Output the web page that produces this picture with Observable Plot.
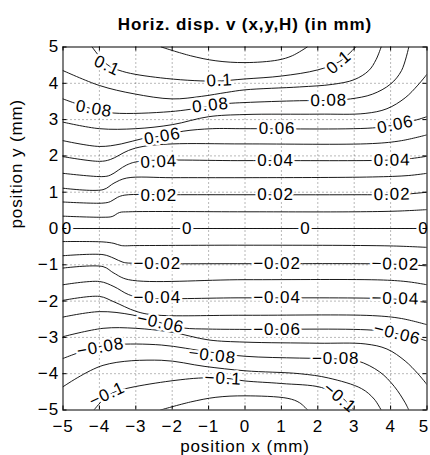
<!DOCTYPE html>
<html><head><meta charset="utf-8">
<script src="https://cdn.jsdelivr.net/npm/d3@7"></script>
<script src="https://cdn.jsdelivr.net/npm/@observablehq/plot@0.6"></script>
<style>body{margin:0;background:#fff}</style>
</head><body><div id="chart"></div>
<script>
// Tick values
const xTicks = [-5,-4,-3,-2,-1,0,1,2,3,4,5];
const yTicks = [-5,-4,-3,-2,-1,0,1,2,3,4,5];

// Contour polylines, one array per level: [x, y]
const c_000 = [[-5,0],[5,0]];
const c_p01 = [[-5,0.34],[-3.9,0.31],[-3.65,0.33],[-3.45,0.44],[-3.2,0.46],[0,0.46],[3,0.46],[4.2,0.48],[5,0.52]];
const c_n01 = [[-5,-0.36],[-3.9,-0.37],[-3.6,-0.41],[-3.4,-0.47],[-3,-0.47],[0,-0.46],[4,-0.48],[5,-0.52]];
const c_p02 = [[-5,0.73],[-3.9,0.70],[-3.7,0.74],[-3.5,0.86],[-3.3,0.92],[-2,0.93],[0,0.93],[3,0.93],[4.3,0.94],[5,1.0]];
const c_n02 = [[-5,-0.75],[-3.9,-0.72],[-3.6,-0.82],[-3.35,-0.93],[-3,-0.96],[0,-0.97],[4,-0.98],[5,-1.03]];
const c_p03 = [[-5,1.11],[-3.9,1.07],[-3.6,1.25],[-3.25,1.39],[-2,1.40],[0,1.40],[3.5,1.42],[4.5,1.46],[5,1.52]];
const c_n03 = [[-5,-1.09],[-3.9,-1.05],[-3.6,-1.23],[-3.2,-1.41],[0,-1.41],[3.8,-1.42],[4.5,-1.47],[5,-1.55]];
const c_p04 = [[-5,1.52],[-3.9,1.43],[-3.7,1.47],[-3.25,1.75],[-2.9,1.85],[0,1.87],[3.8,1.88],[4.5,1.92],[5,1.99]];
const c_n04 = [[-5,-1.55],[-4,-1.46],[-3.6,-1.6],[-3.2,-1.82],[-2.8,-1.91],[0,-1.91],[3.8,-1.93],[4.5,-1.98],[5,-2.04]];
const c_p05 = [[-5,1.98],[-4,1.85],[-3.7,1.9],[-3.2,2.15],[-2.8,2.26],[-2,2.33],[0,2.33],[3.5,2.34],[4.3,2.42],[5,2.58]];
const c_n05 = [[-5,-1.98],[-4,-1.87],[-3.6,-2.02],[-3,-2.28],[-2.5,-2.38],[0,-2.39],[3.5,-2.4],[4.3,-2.48],[5,-2.65]];
const c_p06 = [[-5,2.42],[-4,2.26],[-3.4,2.33],[-2.8,2.48],[-2.27,2.55],[-1.7,2.68],[-0.9,2.75],[0,2.75],[3.5,2.77],[4.13,2.86],[4.6,2.96],[5,3.08]];
const c_n06 = [[-5,-2.44],[-4,-2.29],[-3.1,-2.38],[-2.3,-2.6],[-1.7,-2.74],[-1,-2.77],[0,-2.78],[3.5,-2.8],[4.2,-2.9],[4.6,-2.98],[5,-3.1]];
const c_p07 = [[-5,2.93],[-4,2.75],[-3,2.75],[-2,2.86],[-1,3.08],[0,3.14],[2,3.15],[3.3,3.17],[3.9,3.3],[4.4,3.6],[4.75,3.95],[5,4.25]];
const c_n07 = [[-5,-2.98],[-3.9,-2.75],[-3,-2.75],[-2,-2.86],[-1,-3.07],[0,-3.13],[2,-3.16],[3.3,-3.18],[3.9,-3.32],[4.4,-3.65],[4.75,-4.0],[5,-4.3]];
const c_p08 = [[-5,3.57],[-4.15,3.28],[-3.6,3.18],[-2.05,3.22],[-1,3.36],[-0.5,3.44],[0,3.47],[1.5,3.52],[2.3,3.53],[2.9,3.57],[3.5,3.7],[4,3.98],[4.3,4.35],[4.5,5]];
const c_n08 = [[-5,-3.58],[-4.2,-3.3],[-3.6,-3.2],[-2.3,-3.21],[-1,-3.4],[0,-3.52],[1.5,-3.57],[2.5,-3.59],[3.1,-3.65],[3.7,-3.95],[4.1,-4.35],[4.4,-4.8],[4.5,-5]];
const c_p09 = [[-5,4.35],[-4,3.94],[-3.05,3.71],[-2,3.57],[-1.2,3.64],[-0.5,3.75],[0,3.82],[1.5,3.9],[2.4,3.97],[3,4.1],[3.4,4.35],[3.6,4.65],[3.74,5]];
const c_n09 = [[-5,-4.36],[-3.9,-3.77],[-2.3,-3.63],[-1.1,-3.8],[0,-3.92],[1.5,-4.0],[2.3,-4.12],[3.2,-4.41],[3.55,-4.7],[3.74,-5]];
const c_p10 = [[-4.2,5],[-3.79,4.52],[-3.37,4.33],[-2.32,4.15],[-0.87,4.06],[0,4.12],[1,4.2],[2,4.37],[2.6,4.6],[3.04,5]];
const c_n10 = [[-4.15,-5],[-3.79,-4.62],[-3.42,-4.45],[-1.41,-4.13],[-0.5,-4.13],[0,-4.2],[1,-4.27],[2.1,-4.38],[2.64,-4.64],[3.0,-5]];
const c_p11 = [[-2.3,5],[-1.5,4.76],[-0.8,4.62],[0,4.57],[0.9,4.64],[1.3,4.76],[1.71,5]];
const c_n11 = [[-2.32,-5],[-1.5,-4.78],[-0.8,-4.65],[0,-4.61],[1.18,-4.68],[1.5,-4.8],[1.72,-5]];

// Contour labels
const labelText = ["0.1","0.1","0.1","0.08","0.08","0.08","0.06","0.06","0.06","0.04","0.04","0.04","0.02","0.02","0.02",
  "0","0","0","0",
  "\u22120.02","\u22120.02","\u22120.02","\u22120.04","\u22120.04","\u22120.04","\u22120.06","\u22120.06","\u22120.06",
  "\u22120.08","\u22120.08","\u22120.08","\u22120.1","\u22120.1","\u22120.1"];
const labelX = [-3.79,-0.7,2.58,-4.15,-0.95,2.3,-2.27,0.88,4.13,-2.37,0.84,4.04,-2.37,0.84,4.04,
  -4.89,-1.59,1.66,4.9,
  -2.41,0.88,4.13,-2.41,0.88,4.13,-2.32,0.88,4.18,
  -3.97,-0.9,2.49,-3.79,-0.6,2.6];
const labelY = [4.49,4.08,4.58,3.30,3.40,3.53,2.54,2.75,2.86,1.84,1.87,1.88,0.92,0.93,0.94,
  0,0,0,0,
  -0.97,-0.97,-0.98,-1.91,-1.91,-1.93,-2.6,-2.79,-2.9,
  -3.27,-3.5,-3.59,-4.57,-4.13,-4.66];
const labelRot = [25,-3,-40,10,-6,-1,-10,0,-12,-3,0,-1,0,0,-1,
  0,0,0,0,
  0,0,1,0,0,1,12,0,14,
  -10,7,0,-25,3,40];

const contours = [
  [0,c_000],[0.01,c_p01],[-0.01,c_n01],[0.02,c_p02],[-0.02,c_n02],[0.03,c_p03],[-0.03,c_n03],
  [0.04,c_p04],[-0.04,c_n04],[0.05,c_p05],[-0.05,c_n05],[0.06,c_p06],[-0.06,c_n06],
  [0.07,c_p07],[-0.07,c_n07],[0.08,c_p08],[-0.08,c_n08],[0.09,c_p09],[-0.09,c_n09],
  [0.1,c_p10],[-0.1,c_n10],[0.11,c_p11],[-0.11,c_n11]
];
const lineRows = [];
contours.forEach(([lv, pts]) => pts.forEach(([x, y]) => lineRows.push({level: lv, x, y})));
const labels = labelText.map((t, i) => ({text: t, x: labelX[i], y: labelY[i], rotate: labelRot[i]}));

const W = 430, H = 455, mL = 62.5, mR = 3.5, mT = 46.5, mB = 45.5;
const plotW = W - mL - mR, plotH = H - mT - mB;
const FONT = "'Liberation Sans', Arial, Helvetica, sans-serif";
const FS = 17;
const fmt = d => d < 0 ? "\u2212" + Math.abs(d) : String(d);

const chart = Plot.plot({
  width: W, height: H,
  marginLeft: mL, marginRight: mR, marginTop: mT, marginBottom: mB,
  style: {fontFamily: FONT, fontSize: FS + "px", letterSpacing: "0.9px", color: "black", background: "white", overflow: "visible"},
  x: {domain: [-5, 5]},
  y: {domain: [-5, 5]},
  marks: [
    Plot.gridX(xTicks.slice(1, -1), {stroke: "black", strokeOpacity: 0.7, strokeWidth: 0.8, strokeDasharray: "1,3"}),
    Plot.gridY(yTicks.slice(1, -1), {stroke: "black", strokeOpacity: 0.7, strokeWidth: 0.8, strokeDasharray: "1,3"}),
    Plot.line(lineRows, {x: "x", y: "y", z: "level", curve: "catmull-rom", stroke: "black", strokeWidth: 0.9, clip: true}),
    Plot.text(labels, {x: "x", y: "y", text: "text", rotate: "rotate", fill: "black", stroke: "white", strokeWidth: 5, paintOrder: "stroke", fontSize: FS}),
    Plot.frame({stroke: "black", strokeWidth: 1}),
    Plot.tickX(xTicks, {x: d => d, insetTop: plotH - 4, stroke: "black"}),
    Plot.tickX(xTicks, {x: d => d, insetBottom: plotH - 4, stroke: "black"}),
    Plot.tickY(yTicks, {y: d => d, insetRight: plotW - 4, stroke: "black"}),
    Plot.tickY(yTicks, {y: d => d, insetLeft: plotW - 4, stroke: "black"}),
    Plot.axisX(xTicks.slice(0, -1), {tickSize: 0, tickPadding: 10, tickFormat: fmt, label: null, fontSize: FS}),
    Plot.axisX(xTicks.slice(-1), {tickSize: 0, tickPadding: 10, tickFormat: fmt, label: null, fontSize: FS, dx: -3}),
    Plot.axisY(yTicks, {tickSize: 0, tickPadding: 4, tickFormat: fmt, label: null, fontSize: FS}),
    Plot.text(["Horiz. disp. v (x,y,H) (in mm)"], {frameAnchor: "top", dy: -22, fontWeight: "bold", fontSize: FS, lineAnchor: "middle"}),
    Plot.text(["position x (mm)"], {frameAnchor: "bottom", dy: 37, fontSize: FS, lineAnchor: "middle"}),
    Plot.text(["position y (mm)"], {frameAnchor: "left", dx: -46, rotate: -90, fontSize: FS, lineAnchor: "middle"})
  ]
});
document.getElementById("chart").appendChild(chart);
</script>
</body></html>
